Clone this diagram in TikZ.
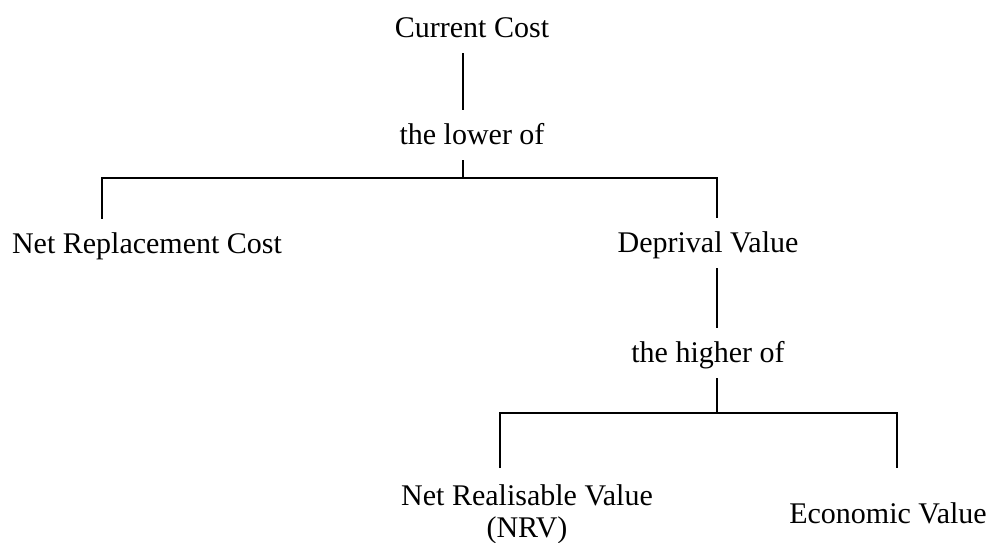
\documentclass[tikz,border=0pt]{standalone}
\usepackage{fontspec}
\setmainfont{Liberation Serif}
\usepackage{tikz}
\usetikzlibrary{
    calc,
    positioning
}
\tikzset{
    lbl/.style={anchor=base,inner xsep=0pt,inner ysep=8pt,
        text height=0.9em,text depth=0pt},
    lbltwo/.style={anchor=north,inner xsep=0pt,inner ysep=8pt,align=center},
    link/.style={line width=0.9pt}
}

\begin{document}
\begin{tikzpicture}[x=0.5pt,y=-0.5pt,font=\fontsize{15}{16}\selectfont]
        \useasboundingbox (0,0) rectangle (992,542);

        \node[lbl] (cur) at (472,37)  {Current Cost};
        \node[lbl] (low) at (472,144) {the lower of};
        \node[lbl] (nrc) at (147,253) {Net Replacement Cost};
        \node[lbl] (dv)  at (708,252) {Deprival Value};
        \node[lbl] (hi)  at (708,362) {the higher of};
        \node[lbltwo] (nrv) at (527,468) {Net Realisable Value\\(NRV)};
        \node[lbl] (ev)  at (888,523) {Economic Value};

        % junctions of the two splits
        \coordinate (top)  at (463,178);
        \coordinate (lft)  at (102,178);
        \coordinate (rgt)  at (717,178);
        \coordinate (bot)  at (717,413);
        \coordinate (blft) at (500,413);
        \coordinate (brgt) at (897,413);
        \coordinate (evtop) at (897,468);

        \draw[link] (cur.south -| top) -- (low.north -| top);
        \draw[link] (low.south -| top) -- (top);
        \draw[link] (nrc.north -| lft) -- (lft) -- (rgt) -- (dv.north -| rgt);
        \draw[link] (dv.south -| rgt) -- (hi.north -| rgt);
        \draw[link] (hi.south -| bot) -- (bot);
        \draw[link] (nrv.north -| blft) -- (blft) -- (brgt) -- (evtop);
    \end{tikzpicture}
\end{document}
